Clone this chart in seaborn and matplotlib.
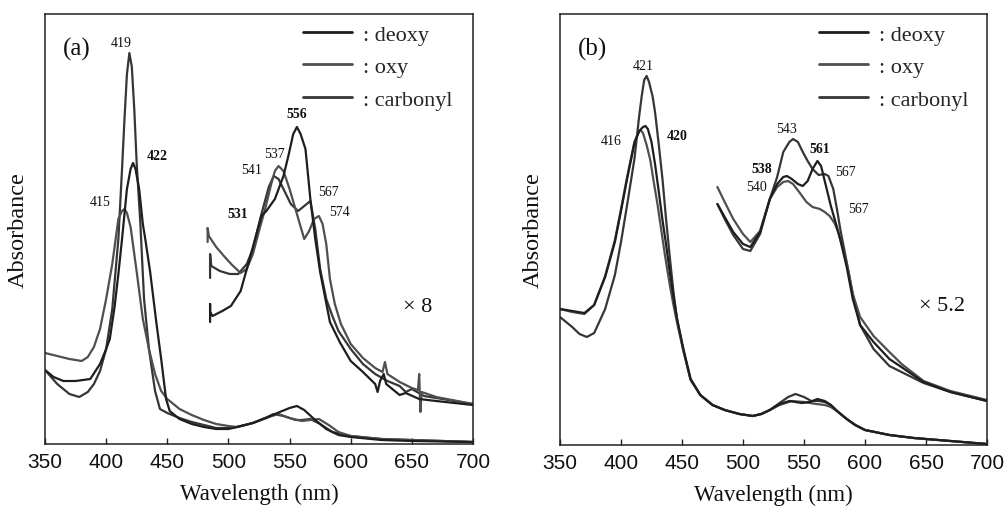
import matplotlib
matplotlib.use("Agg")
import matplotlib.pyplot as plt
from matplotlib.lines import Line2D
import seaborn as sns
import pandas as pd

# ---------------------------------------------------------------
# Absorption spectra (wavelength in nm, absorbance in arbitrary units)
# Panel (a)
# ---------------------------------------------------------------
a_deoxy = [(350, 0.74), (357, 0.67), (365, 0.63), (375, 0.63), (387, 0.65), (395, 0.80),
           (400, 0.95), (403, 1.05), (407, 1.38), (410, 1.70), (413, 2.05), (417, 2.55),
           (420, 2.75), (422, 2.81), (424, 2.75), (427, 2.55), (430, 2.20), (432, 2.05),
           (436, 1.72), (441, 1.22), (445, 0.85), (449, 0.45), (452, 0.33), (460, 0.25),
           (470, 0.20), (480, 0.17), (490, 0.15), (500, 0.15), (507, 0.17), (520, 0.21),
           (531, 0.26), (540, 0.31), (550, 0.36), (556, 0.38), (562, 0.34), (570, 0.25),
           (580, 0.15), (590, 0.09), (600, 0.07), (625, 0.04), (650, 0.03), (700, 0.02)]
a_oxy = [(350, 0.91), (360, 0.88), (370, 0.85), (380, 0.83), (385, 0.87), (390, 0.97),
         (395, 1.15), (400, 1.45), (405, 1.80), (410, 2.25), (413, 2.33), (415, 2.35),
         (417, 2.31), (420, 2.17), (425, 1.72), (430, 1.25), (435, 0.95), (440, 0.70),
         (445, 0.53), (450, 0.45), (460, 0.35), (470, 0.29), (480, 0.24), (490, 0.20),
         (500, 0.18), (507, 0.17), (520, 0.21), (530, 0.26), (541, 0.30), (550, 0.26),
         (560, 0.23), (574, 0.25), (582, 0.19), (590, 0.12), (600, 0.08), (625, 0.05),
         (650, 0.04), (700, 0.02)]
a_carbonyl = [(350, 0.74), (360, 0.60), (370, 0.50), (378, 0.47), (385, 0.52), (390, 0.60),
              (395, 0.73), (400, 0.95), (405, 1.35), (410, 2.05), (413, 2.75), (415, 3.25),
              (417, 3.70), (419, 3.91), (421, 3.77), (423, 3.35), (425, 2.80), (428, 2.20),
              (431, 1.45), (435, 0.95), (440, 0.53), (444, 0.35), (450, 0.31), (460, 0.26),
              (470, 0.22), (480, 0.19), (490, 0.16), (500, 0.16), (507, 0.17), (520, 0.21),
              (530, 0.26), (537, 0.30), (545, 0.28), (555, 0.24), (560, 0.24), (567, 0.25),
              (575, 0.20), (585, 0.12), (600, 0.08), (625, 0.05), (650, 0.04), (700, 0.02)]

# visible region recorded at 8x gain
a_deoxy_x8 = [(485, 1.22), (485, 1.40), (485, 1.32), (487, 1.28), (495, 1.33), (502, 1.38),
              (510, 1.53), (518, 1.88), (524, 2.15), (527, 2.28), (531, 2.33), (538, 2.45),
              (545, 2.68), (549, 2.88), (553, 3.10), (556, 3.17), (559, 3.10), (563, 2.95),
              (567, 2.45), (571, 2.05), (575, 1.72), (583, 1.22), (591, 1.02), (600, 0.83),
              (610, 0.72), (620, 0.60), (622, 0.52), (624, 0.63), (627, 0.70), (629, 0.60),
              (640, 0.49), (645, 0.51), (656, 0.45), (670, 0.43), (700, 0.39)]
a_oxy_x8 = [(483, 2.02), (483, 2.16), (484, 2.08), (490, 1.97), (497, 1.87), (503, 1.79),
            (510, 1.71), (515, 1.75), (520, 1.90), (525, 2.13), (530, 2.35), (535, 2.60),
            (538, 2.73), (541, 2.78), (545, 2.73), (550, 2.55), (556, 2.30), (562, 2.05),
            (566, 2.13), (570, 2.25), (574, 2.28), (577, 2.20), (580, 2.00), (583, 1.65),
            (587, 1.40), (592, 1.20), (600, 1.00), (610, 0.86), (620, 0.76), (626, 0.72),
            (628, 0.82), (630, 0.70), (640, 0.62), (650, 0.56), (655, 0.54), (656, 0.70),
            (657, 0.32), (658, 0.52), (670, 0.47), (700, 0.40)]
a_carbonyl_x8 = [(485, 1.66), (485, 1.90), (486, 1.78), (493, 1.73), (501, 1.70), (508, 1.70),
                 (515, 1.80), (520, 1.95), (527, 2.30), (533, 2.57), (537, 2.68), (541, 2.65),
                 (545, 2.55), (551, 2.40), (557, 2.33), (562, 2.38), (567, 2.43), (571, 2.15),
                 (575, 1.75), (580, 1.45), (585, 1.28), (590, 1.13), (600, 0.95), (610, 0.80),
                 (620, 0.70), (630, 0.63), (640, 0.58), (645, 0.52), (650, 0.55), (660, 0.48),
                 (700, 0.40)]

# ---------------------------------------------------------------
# Panel (b)
# ---------------------------------------------------------------
b_deoxy = [(350, 1.36), (360, 1.34), (370, 1.32), (378, 1.40), (387, 1.68), (395, 2.03),
           (400, 2.34), (405, 2.66), (411, 3.02), (415, 3.14), (418, 3.18), (420, 3.19),
           (422, 3.16), (425, 3.03), (428, 2.80), (431, 2.53), (434, 2.25), (437, 2.00),
           (440, 1.73), (443, 1.48), (446, 1.26), (451, 0.97), (457, 0.66), (465, 0.50),
           (475, 0.40), (485, 0.35), (497, 0.31), (508, 0.29), (515, 0.31), (522, 0.35),
           (530, 0.41), (538, 0.44), (548, 0.42), (555, 0.43), (561, 0.46), (567, 0.44),
           (572, 0.40), (578, 0.33), (585, 0.26), (592, 0.20), (600, 0.15), (620, 0.10),
           (640, 0.07), (670, 0.04), (700, 0.01)]
b_oxy = [(350, 1.36), (360, 1.33), (370, 1.31), (378, 1.40), (387, 1.69), (395, 2.05),
         (400, 2.36), (405, 2.68), (411, 3.03), (414, 3.12), (416, 3.15), (418, 3.12),
         (421, 3.00), (424, 2.85), (427, 2.62), (430, 2.40), (433, 2.15), (436, 1.90),
         (440, 1.60), (443, 1.40), (446, 1.22), (451, 0.95), (457, 0.65), (465, 0.50),
         (475, 0.40), (485, 0.35), (497, 0.31), (508, 0.29), (515, 0.31), (522, 0.35),
         (530, 0.40), (540, 0.44), (550, 0.43), (560, 0.41), (567, 0.40), (572, 0.38),
         (578, 0.33), (585, 0.26), (592, 0.20), (600, 0.15), (620, 0.10), (640, 0.07),
         (670, 0.04), (700, 0.01)]
b_carbonyl = [(350, 1.28), (360, 1.18), (366, 1.11), (372, 1.08), (378, 1.12), (387, 1.36),
              (395, 1.70), (400, 2.03), (405, 2.40), (411, 2.86), (415, 3.30), (417, 3.49),
              (419, 3.65), (421, 3.69), (423, 3.63), (426, 3.48), (428, 3.32), (431, 3.00),
              (434, 2.66), (437, 2.25), (440, 1.88), (443, 1.53), (446, 1.25), (451, 0.95),
              (457, 0.66), (465, 0.50), (475, 0.40), (485, 0.35), (497, 0.31), (508, 0.29),
              (515, 0.31), (522, 0.35), (530, 0.42), (537, 0.48), (543, 0.51), (550, 0.48),
              (556, 0.44), (562, 0.44), (567, 0.43), (572, 0.40), (578, 0.33), (585, 0.26),
              (592, 0.20), (600, 0.15), (620, 0.10), (640, 0.07), (670, 0.04), (700, 0.01)]

# visible region recorded at 5.2x gain
b_deoxy_x52 = [(479, 2.41), (485, 2.28), (492, 2.13), (500, 2.01), (506, 1.98), (514, 2.13),
               (522, 2.46), (528, 2.61), (533, 2.68), (536, 2.69), (540, 2.66), (545, 2.61),
               (549, 2.59), (553, 2.64), (557, 2.76), (561, 2.84), (564, 2.79), (567, 2.64),
               (572, 2.39), (577, 2.18), (580, 2.04), (585, 1.78), (590, 1.46), (596, 1.20),
               (607, 1.03), (620, 0.86), (648, 0.63), (670, 0.53), (700, 0.44)]
b_oxy_x52 = [(479, 2.58), (485, 2.43), (492, 2.26), (500, 2.11), (506, 2.03), (514, 2.14),
             (522, 2.46), (528, 2.58), (533, 2.63), (537, 2.64), (541, 2.61), (546, 2.53),
             (552, 2.43), (557, 2.38), (563, 2.36), (567, 2.33), (571, 2.29), (575, 2.22),
             (578, 2.13), (582, 1.96), (586, 1.76), (590, 1.51), (596, 1.28), (607, 1.09),
             (620, 0.93), (630, 0.81), (648, 0.64), (670, 0.54), (700, 0.45)]
b_carbonyl_x52 = [(479, 2.41), (485, 2.26), (492, 2.10), (500, 1.96), (506, 1.94), (514, 2.11),
                  (522, 2.46), (528, 2.68), (533, 2.93), (538, 3.03), (541, 3.06), (545, 3.03),
                  (549, 2.93), (553, 2.84), (557, 2.76), (562, 2.70), (567, 2.71), (570, 2.69),
                  (574, 2.56), (577, 2.36), (580, 2.14), (585, 1.83), (590, 1.51), (596, 1.20),
                  (607, 0.96), (620, 0.79), (648, 0.62), (670, 0.53), (700, 0.44)]

species = [": deoxy", ": oxy", ": carbonyl"]
wl_ticks = [350, 400, 450, 500, 550, 600, 650, 700]

# peak annotations: (text, wavelength, absorbance, bold)
a_labels = [("419", 412.7, 4.02, False), ("422", 441.6, 2.89, True), ("415", 395.0, 2.43, False),
            ("556", 556.1, 3.30, True), ("541", 519.3, 2.74, False), ("537", 537.3, 2.90, False),
            ("531", 507.8, 2.30, True), ("567", 581.4, 2.53, False), ("574", 591.2, 2.33, False)]
b_labels = [("421", 418.0, 3.79, False), ("416", 391.8, 3.04, False), ("420", 445.9, 3.09, True),
            ("543", 536.0, 3.16, False), ("561", 563.1, 2.96, True), ("538", 515.6, 2.76, True),
            ("540", 510.7, 2.58, False), ("567", 583.6, 2.73, False), ("567", 595.0, 2.36, False)]

colors = {"deoxy": "#1e1e1e", "oxy": "#4f4f4f", "carbonyl": "#363636"}

sns.set_theme(style="white")
plt.rcParams["font.family"] = ["Liberation Serif", "DejaVu Serif"]
plt.rcParams["lines.solid_joinstyle"] = "round"

SERIF = "Liberation Serif"
SANS = "Liberation Sans"

fig = plt.figure(figsize=(10.06, 5.10), dpi=100)
ax_a = fig.add_axes([45 / 1006, 1 - 445 / 510, 428 / 1006, 430 / 510])
ax_b = fig.add_axes([560 / 1006, 1 - 446 / 510, 427 / 1006, 431 / 510])


def draw(ax, series):
    for key, pts in series:
        df = pd.DataFrame(pts, columns=["wl", "abs"])
        sns.lineplot(data=df, x="wl", y="abs", ax=ax, color=colors[key], lw=1.6,
                     estimator=None, sort=False, legend=False)


def style(ax, ymax, tag, gain_text, gain_pos, labels, legend_x):
    ax.set_xlim(350, 700)
    ax.set_ylim(0, ymax)
    ax.set_xticks(wl_ticks)
    ax.set_xticklabels([str(t) for t in wl_ticks], fontfamily=SANS, fontsize=15)
    ax.set_yticks([])
    ax.tick_params(axis="x", direction="in", length=4, width=1, colors="#222222",
                   labelcolor="#111111", pad=6, bottom=True)
    for sp in ax.spines.values():
        sp.set_color("#222222")
        sp.set_linewidth(1.1)
    ax.set_xlabel("Wavelength (nm)", fontfamily=SERIF, fontsize=16.5, color="#111111",
                  labelpad=8)
    ax.set_ylabel("Absorbance", fontfamily=SERIF, fontsize=17.5, color="#111111", labelpad=12)
    ax.text(0.075, 0.92, tag, transform=ax.transAxes, fontfamily=SERIF, fontsize=18,
            ha="center", va="center", color="#111111")
    ax.text(gain_pos[0], gain_pos[1], gain_text, fontfamily=SERIF, fontsize=16,
            ha="center", va="center", color="#111111")
    for txt, x, y, bold in labels:
        ax.text(x, y, txt, fontfamily=SERIF, fontsize=10, ha="center", va="center",
                fontweight="bold" if bold else "normal", color="#111111")
    handles = [Line2D([], [], color=colors[k], lw=2.0) for k in ("deoxy", "oxy", "carbonyl")]
    ax.legend(handles, species, loc="upper right", bbox_to_anchor=(legend_x, 1.007),
              frameon=False, prop={"family": SERIF, "size": 16}, handlelength=2.2,
              handletextpad=0.5, labelspacing=0.53, borderaxespad=0.2)


draw(ax_a, [("carbonyl", a_carbonyl), ("oxy", a_oxy), ("deoxy", a_deoxy),
            ("carbonyl", a_carbonyl_x8), ("oxy", a_oxy_x8), ("deoxy", a_deoxy_x8)])
draw(ax_b, [("carbonyl", b_carbonyl), ("oxy", b_oxy), ("deoxy", b_deoxy),
            ("carbonyl", b_carbonyl_x52), ("oxy", b_oxy_x52), ("deoxy", b_deoxy_x52)])

style(ax_a, 4.30, "(a)", "\u00d7 8", (655, 1.38), a_labels, 0.983)
style(ax_b, 4.31, "(b)", "\u00d7 5.2", (663, 1.39), b_labels, 0.988)

fig.savefig("out.png", dpi=100, facecolor="white")
